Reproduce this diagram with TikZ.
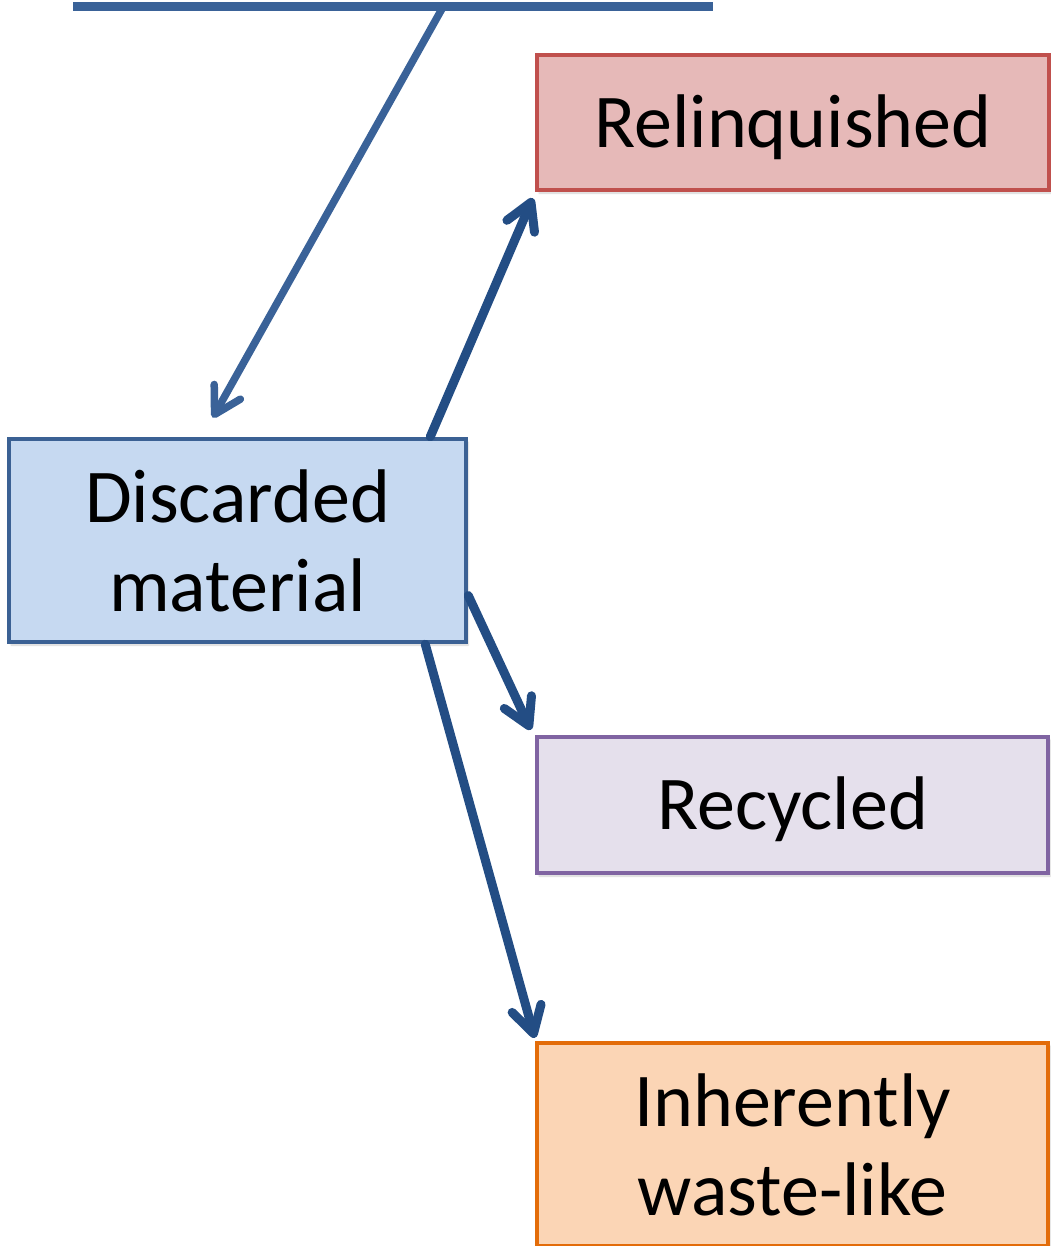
\documentclass[tikz,border=0pt]{standalone}
\usepackage{fontspec}
\setmainfont{Carlito}
\usetikzlibrary{arrows.meta,shadows.blur}

\definecolor{barblue}{HTML}{3A6298}
\definecolor{arrblue}{HTML}{234D84}
\definecolor{discfill}{HTML}{C6D9F1}
\definecolor{discline}{HTML}{3B6194}
\definecolor{relfill}{HTML}{E6B9B8}
\definecolor{relline}{HTML}{C0504D}
\definecolor{recfill}{HTML}{E5E0EC}
\definecolor{recline}{HTML}{8064A2}
\definecolor{inhfill}{HTML}{FBD5B5}
\definecolor{inhline}{HTML}{E36C09}

\newcommand{\lowertext}[2]{\raisebox{-#1}[\height][\depth]{#2}}

\tikzset{
  box/.style={rectangle, inner sep=0pt, line width=4.5pt, align=center,
    font=\fontsize{76}{89}\selectfont,
    blur shadow={shadow xshift=2pt, shadow yshift=-3pt, shadow blur steps=6, shadow opacity=18}},
  barb/.style={line width=#1, line cap=round,
    -{Straight Barb[length=26pt, width=30pt, round]}},
}

\begin{document}
\begin{tikzpicture}[x=1pt, y=-1pt]
  \useasboundingbox (0,0) rectangle (1050,1246);

  % boxes
  \node[box, draw=relline, fill=relfill, minimum width=512pt, minimum height=135pt]
    (rel) at (793,122.5) {\lowertext{5pt}{Relinquished}};
  \node[box, draw=discline, fill=discfill, minimum width=457pt, minimum height=203pt]
    (disc) at (237.5,540.5) {Discarded\\material};
  \node[box, draw=recline, fill=recfill, minimum width=511pt, minimum height=136pt]
    (rec) at (792.5,805) {\lowertext{4pt}{Recycled}};
  \node[box, draw=inhline, fill=inhfill, minimum width=511pt, minimum height=203pt]
    (inh) at (792.5,1144.5) {Inherently\\waste-like};

  % horizontal bar at the top
  \coordinate (barL) at (73,7);
  \coordinate (barR) at (713,7);
  \coordinate (barJ) at (443,7);
  \draw[barblue, line width=9pt] (barL) -- (barR);

  % connectors
  \draw[barb=7.5pt, barblue] (barJ) -- ([shift={(206pt,19pt)}]disc.north west);
  \draw[barb=9pt, arrblue] ([xshift=-38pt]disc.north east) -- ([shift={(-2pt,-6pt)}]rel.south west);
  \draw[barb=9pt, arrblue] ([yshift=-55pt]disc.east) -- ([shift={(-4pt,5pt)}]rec.north west);
  \draw[barb=9pt, arrblue] ([xshift=-43pt]disc.south east) -- ([yshift=3pt]inh.north west);
\end{tikzpicture}
\end{document}
